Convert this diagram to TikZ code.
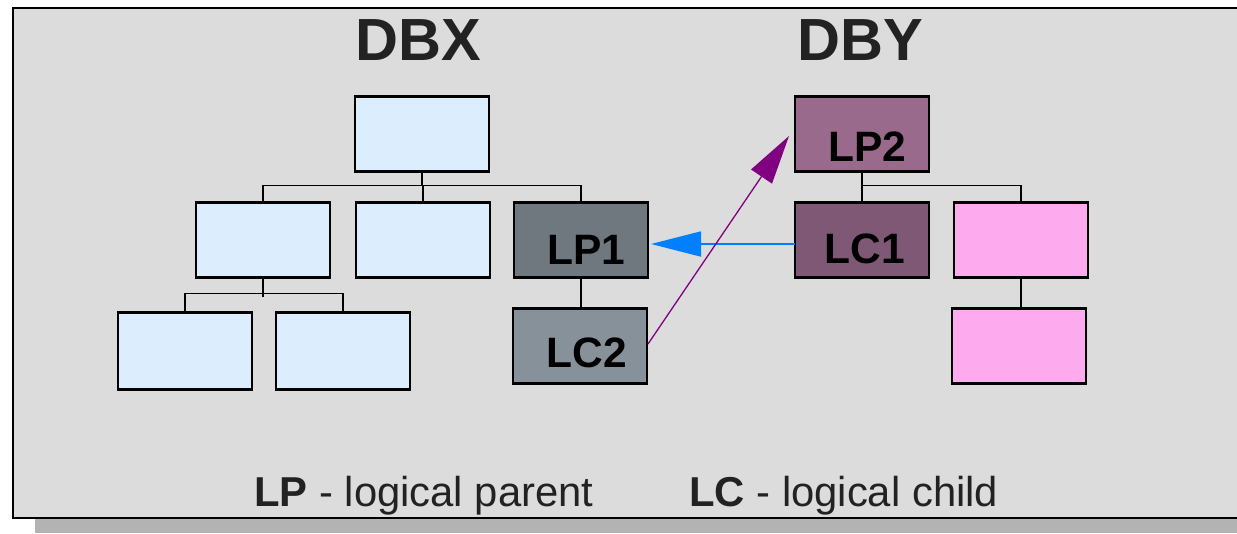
\documentclass[tikz,border=0pt]{standalone}
\usepackage{fontspec}
\setmainfont{Liberation Sans}
\usetikzlibrary{arrows.meta,calc}
\definecolor{bgc}{HTML}{DCDCDC}
\definecolor{shadowc}{HTML}{B3B3B3}
\definecolor{lightblue}{HTML}{DCEEFD}
\definecolor{lpone}{HTML}{6E787E}
\definecolor{lctwo}{HTML}{87919A}
\definecolor{lptwo}{HTML}{9A6A8C}
\definecolor{lcone}{HTML}{7F5875}
\definecolor{pinkc}{HTML}{FDAAEE}
\definecolor{bluea}{HTML}{0080FF}
\definecolor{purplea}{HTML}{800080}
\definecolor{textc}{HTML}{222222}
\tikzset{
  box/.style={draw=black, line width=2.2pt, minimum width=134pt, minimum height=75pt, inner sep=0pt, outer sep=0pt},
  conn/.style={draw=black, line width=1.6pt},
  lbl/.style={font=\fontsize{42.5}{42.5}\selectfont\bfseries, text=black, anchor=base, inner sep=0pt},
  title/.style={font=\fontsize{59.5}{59.5}\selectfont\bfseries, text=textc, anchor=base, inner sep=0pt},
  legend/.style={font=\fontsize{41.8}{41.8}\selectfont, text=textc, anchor=base west, inner sep=0pt},
}
\begin{document}
\begin{tikzpicture}[x=1pt,y=-1pt]
\useasboundingbox (0,0) rectangle (1237,533);
% shadow and frame
\fill[shadowc] (35,519) rectangle (1237,533);
\fill[bgc] (13,8) rectangle (1237,518);
\draw[line width=2pt] (1240,8) -- (13,8) -- (13,518) -- (1240,518);
% titles
\node[title] (dbx) at (418.5,60) {DBX};
\node[title] (dby) at (860,60) {DBY};
% DBX boxes
\node[box, fill=lightblue] (r) at (422,134) {};
\node[box, fill=lightblue] (a) at (263,240) {};
\node[box, fill=lightblue] (b) at (423,240) {};
\node[box, fill=lpone] (lp1) at (581,240) {};
\node[box, fill=lightblue, minimum height=77pt] (c) at (185,351) {};
\node[box, fill=lightblue, minimum height=77pt] (d) at (343,351) {};
\node[box, fill=lctwo] (lc2) at (580,346) {};
% DBY boxes
\node[box, fill=lptwo] (lp2) at (862,134) {};
\node[box, fill=lcone] (lc1) at (862,240) {};
\node[box, fill=pinkc] (p1) at (1021,240) {};
\node[box, fill=pinkc] (p2) at (1019,346) {};
% labels
\node[lbl] (tlp1) at (586,264) {LP1};
\node[lbl] (tlc2) at (587,367) {LC2};
\node[lbl] (tlp2) at (867,161) {LP2};
\node[lbl] (tlc1) at (865,263) {LC1};
% connectors DBX
\draw[conn] (r.south) -- ++(0,14) coordinate (j1);
\draw[conn] (a.north) |- (j1) -| (lp1.north);
\draw[conn] (b.north) -- (b.north |- j1);
\draw[conn] (a.south) -- ++(0,19) coordinate (j2);
\draw[conn] (c.north) |- ($(j2)+(0,-3)$) -| (d.north);
\draw[conn] (lp1.south) -- (lp1.south |- lc2.north);
% connectors DBY
\draw[conn] (lp2.south) -- ++(0,14) coordinate (j3);
\draw[conn] (lc1.north) -- (lc1.north |- j3);
\draw[conn] (j3) -| (p1.north);
\draw[conn] (p1.south) -- (p1.south |- p2.north);
% logical arrows
\draw[draw=bluea, line width=1.8pt, -{Triangle[length=50pt,width=25pt]}] ($(lc1.west)+(0,4)$) -- ($(lp1.east)+(3,4)$);
\draw[draw=purplea, line width=1.3pt, -{Triangle[length=49pt,width=25pt]}] ($(lc2.east)+(1,-2)$) -- ($(lp2.west)+(-6,2)$);
% legend
\node[legend] (leg1) at (254,506) {\textbf{LP} - logical parent};
\node[legend] (leg2) at (689,506) {\textbf{LC} - logical child};
\end{tikzpicture}
\end{document}
